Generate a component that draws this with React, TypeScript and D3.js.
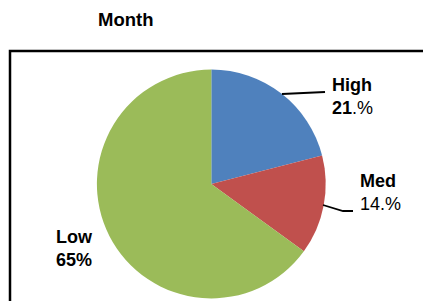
import { useEffect, useRef } from 'react'
import * as d3 from 'd3'

const categories = ['High', 'Med', 'Low']
const values = [21, 14, 65]
const valueLabels = [['21', '.%'], ['', '14.%'], ['65%', '']]
const colors = ['#4f81bd', '#c0504d', '#9bbb59']

export default function App() {
  const svgRef = useRef<SVGSVGElement | null>(null)

  useEffect(() => {
    const svg = d3.select(svgRef.current)
    svg.selectAll('*').remove()
    const font = 'Arial, "Liberation Sans", sans-serif'

    svg.append('rect')
      .attr('x', 0).attr('y', 0).attr('width', 423).attr('height', 301)
      .attr('fill', '#fff')

    svg.append('text')
      .attr('x', 98).attr('y', 26)
      .attr('font-family', font).attr('font-size', 18.5).attr('font-weight', 'bold')
      .text('Month')

    // chart frame
    svg.append('rect')
      .attr('x', 10).attr('y', 51).attr('width', 440).attr('height', 280)
      .attr('fill', 'none').attr('stroke', '#000').attr('stroke-width', 2.5)

    const cx = 211.3, cy = 184, r = 114.4
    const pie = d3.pie<number>().sort(null).value(d => d)
    const arc = d3.arc<d3.PieArcDatum<number>>().innerRadius(0).outerRadius(r)
    const g = svg.append('g').attr('transform', `translate(${cx},${cy})`)
    g.selectAll('path')
      .data(pie(values))
      .enter()
      .append('path')
      .attr('d', arc)
      .attr('fill', (d, i) => colors[i])

    // leader lines
    const leaders = [
      [[282, 94], [325, 92]],
      [[323, 205], [343, 211], [353, 211]],
    ]
    leaders.forEach(pts => {
      svg.append('path')
        .attr('d', d3.line()(pts as [number, number][]))
        .attr('fill', 'none').attr('stroke', '#000').attr('stroke-width', 1.8)
    })

    const labelPos = [
      { x: 332, y: 91 },
      { x: 360, y: 187 },
      { x: 56, y: 243 },
    ]
    categories.forEach((c, i) => {
      const t = svg.append('text')
        .attr('font-family', font).attr('font-size', 18).attr('fill', '#000')
      t.append('tspan').attr('x', labelPos[i].x).attr('y', labelPos[i].y)
        .attr('font-weight', 'bold').text(c)
      const line2 = t.append('tspan').attr('x', labelPos[i].x).attr('y', labelPos[i].y + 23)
      line2.append('tspan').attr('font-weight', 'bold').text(valueLabels[i][0])
      if (i === 2) return
      line2.append('tspan').text(valueLabels[i][1])
    })
  }, [])

  return (
    <svg ref={svgRef} width={423} height={301}
      style={{ position: 'absolute', left: 0, top: 0 }} />
  )
}
